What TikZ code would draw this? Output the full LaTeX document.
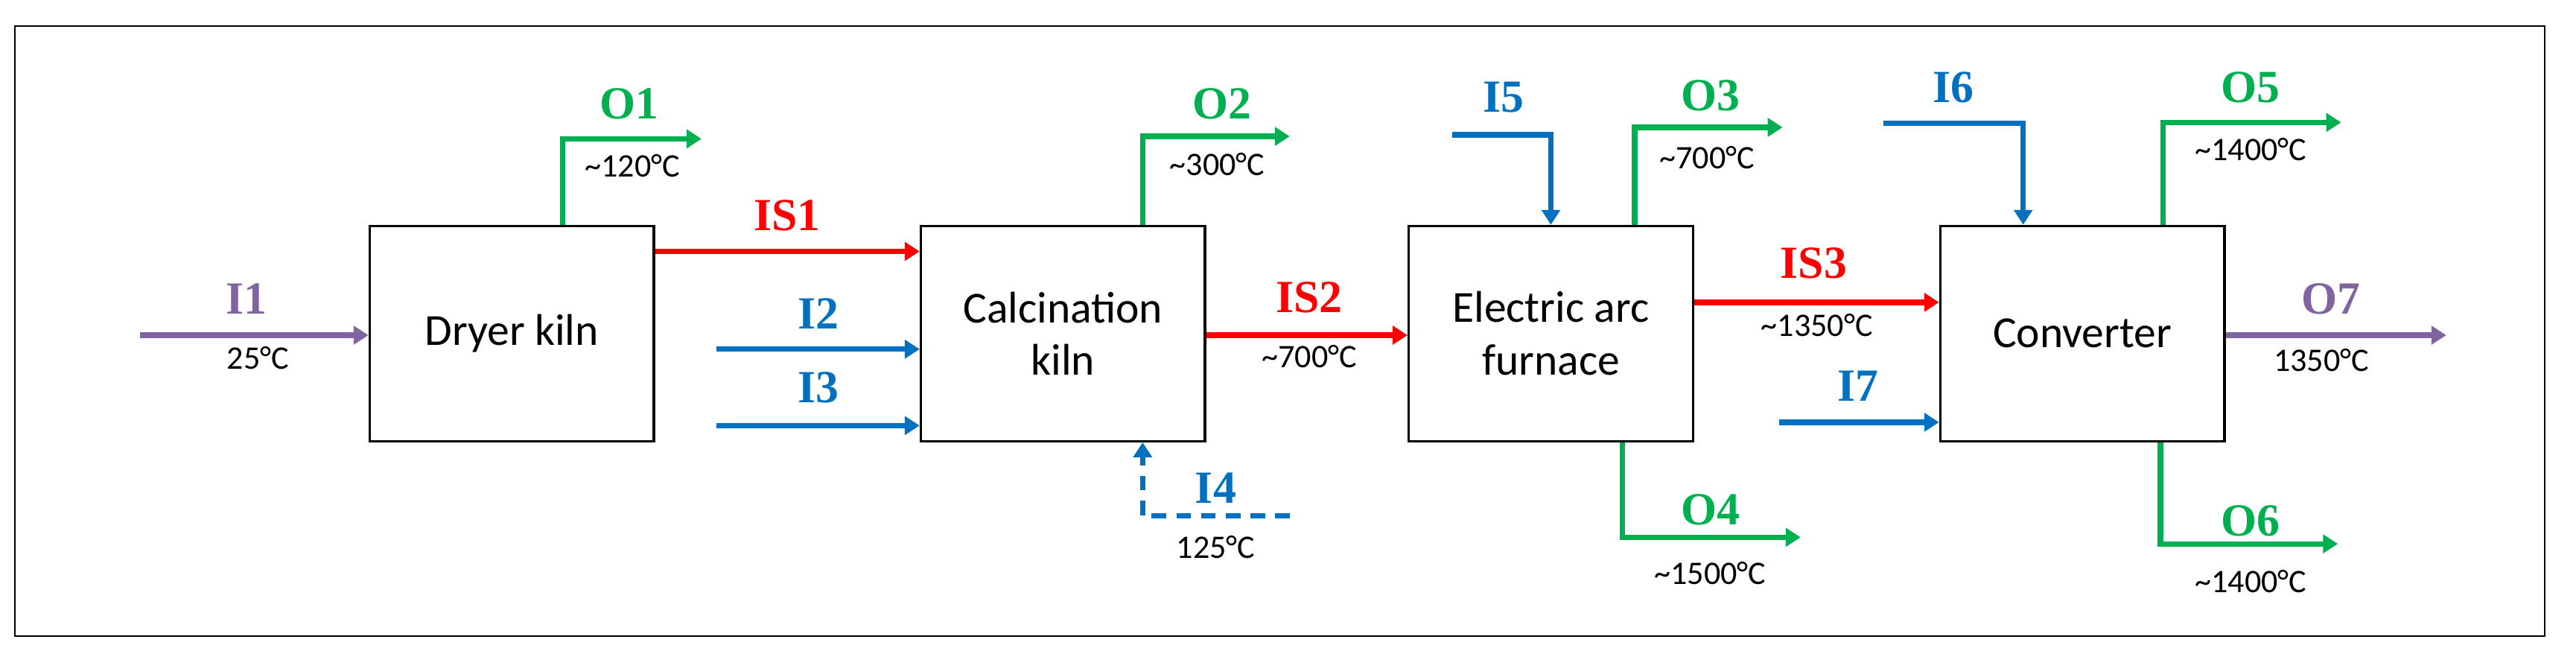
\documentclass[tikz,border=0pt]{standalone}
\usepackage{fontspec}
\setmainfont{Carlito}
\newfontfamily\lblfont{Liberation Serif}
\usetikzlibrary{arrows.meta}
\definecolor{cpur}{HTML}{8064A2}
\definecolor{cred}{HTML}{FF0000}
\definecolor{cblu}{HTML}{0070C0}
\definecolor{cgrn}{HTML}{00B050}
\begin{document}
\begin{tikzpicture}[x=1pt,y=-1pt,
  flow/.style={line width=3.3pt,-{Triangle[length=9pt,width=11pt]}},
  unit/.style={draw,line width=1.5pt,minimum width=173pt,minimum height=131pt,font=\fontsize{27}{32}\selectfont,align=center,inner sep=0pt},
  lbl/.style={font=\lblfont\bfseries\fontsize{28}{30}\selectfont,inner sep=0pt},
  tmp/.style={font=\fontsize{20}{22}\selectfont,inner sep=0pt}]
\useasboundingbox (0,0) rectangle (1568,396);
\draw[line width=1pt] (9,16) rectangle (1549,387);
\node[unit] (dk) at (311.5,203) {Dryer kiln};
\node[unit] (ck) at (647,203) {Calcination\\kiln};
\node[unit] (eaf) at (944,203) {Electric arc\\furnace};
\node[unit] (cv) at (1267.5,203) {Converter};
% coordinates
\coordinate (i1s) at (85,204);
\coordinate (i2s) at (436,212.5);
\coordinate (i3s) at (436,259);
\coordinate (o1a) at (342.5,84.5); \coordinate (o1e) at (427,84.5);
\coordinate (o2a) at (695.5,83); \coordinate (o2e) at (785,83);
\coordinate (i4s) at (785,314); \coordinate (i4a) at (695.5,314);
\coordinate (i5s) at (884,82); \coordinate (i5a) at (944,82);
\coordinate (o3a) at (995,77.5); \coordinate (o3e) at (1085,77.5);
\coordinate (i7s) at (1083,257);
\coordinate (o4a) at (987.5,327); \coordinate (o4e) at (1096,327);
\coordinate (i6s) at (1146.5,75); \coordinate (i6a) at (1231.5,75);
\coordinate (o5a) at (1316.5,74.5); \coordinate (o5e) at (1425,74.5);
\coordinate (o7e) at (1489,204);
\coordinate (o6a) at (1315,331); \coordinate (o6e) at (1423,331);
% flows
\draw[flow,cpur] (i1s) -- (dk.west |- i1s);
\draw[flow,cred] (dk.east |- 0,153) -- (ck.west |- 0,153);
\draw[flow,cblu] (i2s) -- (ck.west |- i2s);
\draw[flow,cblu] (i3s) -- (ck.west |- i3s);
\draw[flow,cgrn] (dk.north -| o1a) -- (o1a) -- (o1e);
\draw[flow,cgrn] (ck.north -| o2a) -- (o2a) -- (o2e);
\draw[flow,cblu,dashed,dash pattern=on 9pt off 6pt] (i4s) -- (i4a) -- (ck.south -| i4a);
\draw[flow,cred] (ck.east |- 0,204) -- (eaf.west |- 0,204);
\draw[flow,cblu] (i5s) -- (i5a) -- (eaf.north -| i5a);
\draw[flow,cgrn] (eaf.north -| o3a) -- (o3a) -- (o3e);
\draw[flow,cred] (eaf.east |- 0,184) -- (cv.west |- 0,184);
\draw[flow,cblu] (i7s) -- (cv.west |- i7s);
\draw[flow,cgrn] (eaf.south -| o4a) -- (o4a) -- (o4e);
\draw[flow,cblu] (i6s) -- (i6a) -- (cv.north -| i6a);
\draw[flow,cgrn] (cv.north -| o5a) -- (o5a) -- (o5e);
\draw[flow,cpur] (cv.east |- 0,204) -- (o7e);
\draw[flow,cgrn] (cv.south -| o6a) -- (o6a) -- (o6e);
% labels
\node[lbl,cpur] (li1) at (150,182) {I1};
\node[tmp] (ti1) at (157,218) {25°C};
\node[lbl,cred] (lis1) at (479,131) {IS1};
\node[lbl,cblu] (li2) at (498,191) {I2};
\node[lbl,cblu] (li3) at (498,236) {I3};
\node[lbl,cgrn] (lo1) at (383,63) {O1};
\node[tmp] (to1) at (385,101) {\textasciitilde120°C};
\node[lbl,cgrn] (lo2) at (744,63) {O2};
\node[tmp] (to2) at (741,100) {\textasciitilde300°C};
\node[lbl,cblu] (li4) at (740,297) {I4};
\node[tmp] (ti4) at (740,333) {125°C};
\node[lbl,cred] (lis2) at (797,181) {IS2};
\node[tmp] (tis2) at (797,217) {\textasciitilde700°C};
\node[lbl,cblu] (li5) at (915,59) {I5};
\node[lbl,cgrn] (lo3) at (1041,58) {O3};
\node[tmp] (to3) at (1039,96) {\textasciitilde700°C};
\node[lbl,cred] (lis3) at (1104,160) {IS3};
\node[tmp] (tis3) at (1106,198) {\textasciitilde1350°C};
\node[lbl,cblu] (li7) at (1131,235) {I7};
\node[lbl,cgrn] (lo4) at (1041,310) {O4};
\node[tmp] (to4) at (1041,349) {\textasciitilde1500°C};
\node[lbl,cblu] (li6) at (1189,53) {I6};
\node[lbl,cgrn] (lo5) at (1370,53) {O5};
\node[tmp] (to5) at (1370,91) {\textasciitilde1400°C};
\node[lbl,cpur] (lo7) at (1419,182) {O7};
\node[tmp] (to7) at (1413,219) {1350°C};
\node[lbl,cgrn] (lo6) at (1370,317) {O6};
\node[tmp] (to6) at (1370,354) {\textasciitilde1400°C};
\end{tikzpicture}
\end{document}
